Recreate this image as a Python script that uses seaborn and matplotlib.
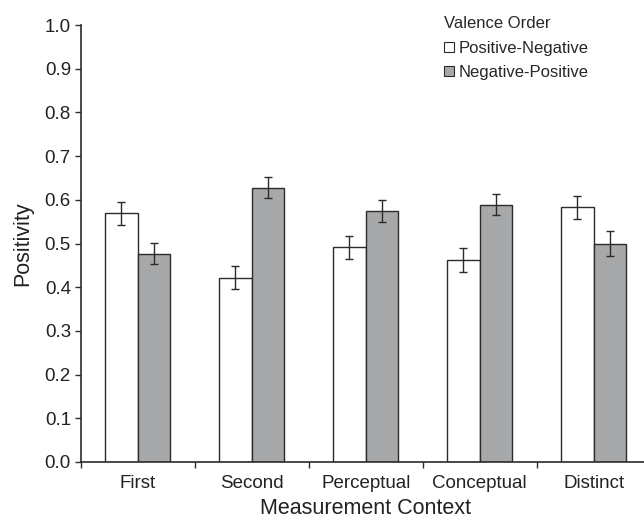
import numpy as np
import pandas as pd
import matplotlib
matplotlib.use('Agg')
import matplotlib.pyplot as plt
from matplotlib.lines import Line2D
import seaborn as sns

# data
contexts = ['First', 'Second', 'Perceptual', 'Conceptual', 'Distinct']
orders = ['Positive-Negative', 'Negative-Positive']
pos_neg = [0.569, 0.422, 0.491, 0.462, 0.583]
neg_pos = [0.477, 0.628, 0.575, 0.589, 0.500]
pos_neg_err = [0.026, 0.026, 0.026, 0.027, 0.026]
neg_pos_err = [0.024, 0.025, 0.025, 0.024, 0.028]

df = pd.DataFrame({
    'context': contexts * 2,
    'order': [orders[0]] * 5 + [orders[1]] * 5,
    'value': pos_neg + neg_pos,
    'err': pos_neg_err + neg_pos_err,
})

sns.set_theme(style='white')
plt.rcParams['font.family'] = ['Liberation Sans', 'DejaVu Sans']

edge = '#2b2b2b'
gray = '#a7a8aa'

fig = plt.figure(figsize=(6.44, 5.18), dpi=100)
ax = fig.add_axes([80.7 / 644, 56 / 518, 570 / 644, 437 / 518])

sns.barplot(data=df, x='context', y='value', hue='order', order=contexts,
            hue_order=orders, palette=['white', gray], width=0.57,
            edgecolor=edge, linewidth=1.0, errorbar=None, legend=False, ax=ax)

# error bars at the bar centres
for patch in ax.patches[:10]:
    x = patch.get_x() + patch.get_width() / 2
    h = patch.get_height()
    row = df[(df['value'] == h)].iloc[0]
    ax.errorbar(x, h, yerr=row['err'], fmt='none', ecolor=edge,
                elinewidth=1.0, capsize=3.0, capthick=1.0)

ax.set_ylim(0, 1.0)
ax.set_xlim(-0.5, 4.5)
ax.set_yticks(np.arange(0, 1.01, 0.1))
ax.set_yticklabels([f'{v:.1f}' for v in np.arange(0, 1.01, 0.1)])
ax.set_xticks(range(5))
ax.set_xticks(np.arange(-0.5, 5, 1), minor=True)
ax.tick_params(axis='x', which='major', length=0, pad=9.5, labelsize=13.5, colors='#222')
ax.tick_params(axis='x', which='minor', length=4.5, width=1.0, color=edge, direction='out', bottom=True)
ax.tick_params(axis='y', length=4.5, width=1.0, color=edge, direction='out', left=True,
               labelsize=13.5, pad=2.5)
for lab in ax.get_yticklabels():
    lab.set_color('#222')

sns.despine(ax=ax)
for s in ['left', 'bottom']:
    ax.spines[s].set_color(edge)
    ax.spines[s].set_linewidth(1.2)

ax.set_xlabel('Measurement Context', fontsize=15.5, color='#222', labelpad=4)
ax.set_ylabel('Positivity', fontsize=15.5, color='#222', labelpad=8)

handles = [Line2D([], [], marker='s', linestyle='none', markersize=7,
                  markerfacecolor=c, markeredgecolor=edge, markeredgewidth=0.8)
           for c in ['white', gray]]
leg = ax.legend(handles, orders, title='Valence Order', frameon=False,
                loc='upper left', bbox_to_anchor=(0.625, 1.035), fontsize=12,
                title_fontsize=12, handlelength=0.7, handletextpad=0.2,
                labelspacing=0.55, borderaxespad=0)
leg._legend_box.align = 'left'

fig.savefig('out.png', dpi=100)
